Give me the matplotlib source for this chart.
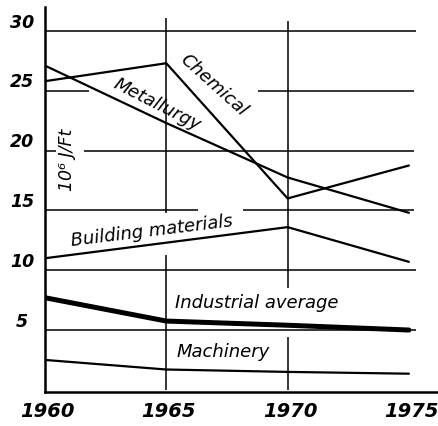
"""Specific energy use by industry branch, 1960-1975 (hand-drawn style)."""

import matplotlib

matplotlib.use("Agg")
import matplotlib.pyplot as plt

years = [1960, 1965, 1970, 1975]
chemical = [25.8, 27.3, 16.0, 18.75]
metallurgy = [27.1, 22.3, 17.75, 14.8]
building_materials = [11.0, 12.3, 13.6, 10.7]
industrial_average = [7.7, 5.75, 5.4, 5.0]
machinery = [2.5, 1.7, 1.5, 1.35]

y_ticks = [30, 25, 20, 15, 10, 5]
year_labels = ["1960", "1965", "1970", "1975"]

INK = "black"

fig = plt.figure(figsize=(4.39, 4.26), dpi=100)
ax = fig.add_axes([45 / 439, 34 / 426, 393 / 439, 385 / 426])
ax.set_xlim(1960, 1976.2)
ax.set_ylim(-0.18, 32.0)

# grid, drawn by hand in the original so it has gaps around the lettering
grid_kw = dict(color=INK, linewidth=1.1, zorder=1)
for value in y_ticks:
    if value == 25:
        ax.hlines(value, 1959.75, 1961.8, **grid_kw)
        ax.hlines(value, 1968.8, 1975.2, **grid_kw)
    elif value == 20:
        ax.hlines(value, 1959.75, 1960.45, **grid_kw)
        ax.hlines(value, 1961.6, 1975.2, **grid_kw)
    elif value == 15:
        ax.hlines(value, 1959.75, 1966.3, **grid_kw)
        ax.hlines(value, 1968.15, 1975.2, **grid_kw)
    else:
        ax.hlines(value, 1959.75, 1975.3, **grid_kw)
ax.vlines(1965, 0, 11.25, **grid_kw)
ax.vlines(1965, 14.8, 31.1, **grid_kw)
ax.vlines(1970, 0, 4.4, **grid_kw)
ax.vlines(1970, 8.5, 30.8, **grid_kw)

line_kw = dict(color=INK, linewidth=1.6, solid_capstyle="round", zorder=3)
ax.plot(years, chemical, **line_kw)
ax.plot(years, metallurgy, **line_kw)
ax.plot(years, building_materials, **line_kw)
ax.plot(years, machinery, **line_kw)
ax.plot(years, industrial_average, color=INK, linewidth=3.6,
        solid_capstyle="round", zorder=3)

for side in ("top", "right"):
    ax.spines[side].set_visible(False)
for side in ("left", "bottom"):
    ax.spines[side].set_linewidth(1.8)
ax.set_xticks([])
ax.set_yticks([])

hand = dict(family="DejaVu Sans", style="italic", color=INK,
            ha="center", va="center", clip_on=False)

for value in y_ticks:
    ax.text(1959.05, value + 0.7, str(value), fontsize=12.5, fontweight="bold", **hand)
for year, label in zip(years, year_labels):
    ax.text(year + 0.1, -1.85, label, fontsize=14, fontweight="bold", **hand)

ax.text(1966.95, 25.45, "Chemical", fontsize=13, rotation=-42, **hand)
ax.text(1964.61, 23.8, "Metallurgy", fontsize=13, rotation=-27, **hand)
ax.text(1964.41, 13.25, "Building materials", fontsize=13, rotation=7, **hand)
ax.text(1968.74, 7.25, "Industrial average", fontsize=13, **hand)
ax.text(1967.33, 3.15, "Machinery", fontsize=13, **hand)
ax.text(1960.9, 19.2, "10\u2076 J/Ft", fontsize=12.5, rotation=90, **hand)

fig.savefig("out.png", dpi=100)
